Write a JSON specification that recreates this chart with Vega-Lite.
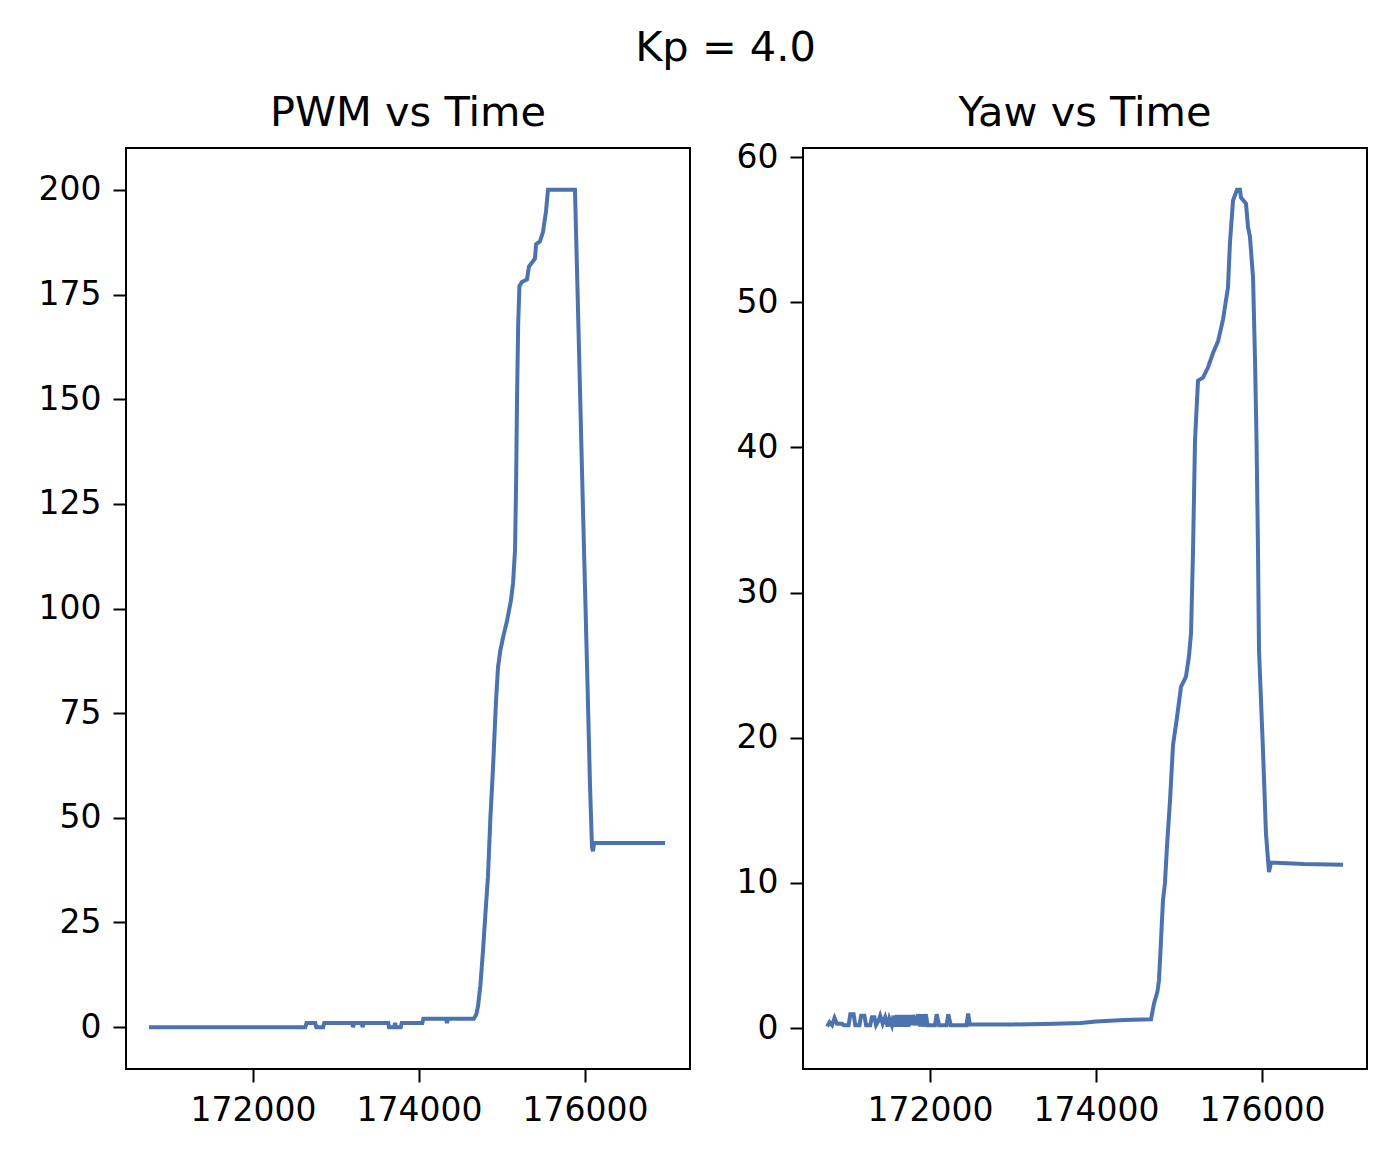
{
  "$schema": "https://vega.github.io/schema/vega-lite/v6.json",
  "background": "white",
  "padding": {"left": 37, "top": 28, "right": 20, "bottom": 20},
  "title": {"text": "Kp = 4.0", "anchor": "middle", "font": "DejaVu Sans", "fontSize": 41.5, "fontWeight": "normal", "color": "black", "offset": 22, "dx": 23},
  "config": {
    "view": {"stroke": "black", "strokeWidth": 2},
    "axis": {"domain": false, "grid": false, "ticks": true, "tickColor": "black", "tickWidth": 2, "tickSize": 13, "labelFont": "DejaVu Sans", "labelFontSize": 33, "labelColor": "black", "labelPadding": 12, "labelOverlap": false, "labelFlush": false, "title": null},
    "title": {"font": "DejaVu Sans", "fontSize": 41.5, "fontWeight": "normal", "color": "black", "offset": 12}
  },
  "spacing": 113,
  "bounds": "flush",
  "hconcat": [
    {
      "width": 564, "height": 921,
      "title": {"text": "PWM vs Time", "offset": 14},
      "data": {"values": [
        {"time":170747,"pwm":0},{"time":172630,"pwm":0},{"time":172645,"pwm":1},{"time":172750,"pwm":1},{"time":172762,"pwm":0},{"time":172845,"pwm":0},{"time":172858,"pwm":1},{"time":173195,"pwm":1},{"time":173205,"pwm":0},{"time":173220,"pwm":1},{"time":173310,"pwm":1},{"time":173320,"pwm":0},{"time":173335,"pwm":1},{"time":173630,"pwm":1},{"time":173640,"pwm":0},{"time":173700,"pwm":0},{"time":173712,"pwm":1},{"time":173725,"pwm":0},{"time":173780,"pwm":0},{"time":173792,"pwm":1},{"time":174040,"pwm":1},{"time":174052,"pwm":2},{"time":174325,"pwm":2},{"time":174337,"pwm":1},{"time":174350,"pwm":2},{"time":174660,"pwm":2},{"time":174690,"pwm":3},{"time":174711,"pwm":5},{"time":174740,"pwm":10},{"time":174770,"pwm":18},{"time":174800,"pwm":27},{"time":174831,"pwm":36},{"time":174860,"pwm":50},{"time":174892,"pwm":62},{"time":174928,"pwm":78},{"time":174952,"pwm":86},{"time":174980,"pwm":90},{"time":175012,"pwm":93},{"time":175060,"pwm":97},{"time":175108,"pwm":102},{"time":175133,"pwm":106},{"time":175157,"pwm":114},{"time":175170,"pwm":130},{"time":175181,"pwm":150},{"time":175195,"pwm":168},{"time":175210,"pwm":177},{"time":175240,"pwm":178},{"time":175301,"pwm":178.6},{"time":175325,"pwm":181.7},{"time":175398,"pwm":183.6},{"time":175410,"pwm":187},{"time":175458,"pwm":187.7},{"time":175494,"pwm":190},{"time":175530,"pwm":194.8},{"time":175554,"pwm":200},{"time":175879,"pwm":200},{"time":175910,"pwm":176},{"time":175940,"pwm":152},{"time":175970,"pwm":128},{"time":176000,"pwm":105},{"time":176030,"pwm":82},{"time":176060,"pwm":58},{"time":176084,"pwm":43},{"time":176096,"pwm":42},{"time":176110,"pwm":44},{"time":176964,"pwm":44}
      ]},
      "mark": {"type": "line", "color": "#4c72b0", "strokeWidth": 4, "clip": true},
      "encoding": {
        "x": {"field": "time", "type": "quantitative", "scale": {"domain": [170470, 177265], "nice": false, "zero": false}, "axis": {"values": [172000, 174000, 176000], "format": "d"}},
        "y": {"field": "pwm", "type": "quantitative", "scale": {"domain": [-10, 210], "nice": false, "zero": false}, "axis": {"values": [0, 25, 50, 75, 100, 125, 150, 175, 200], "format": "d"}}
      }
    },
    {
      "width": 564, "height": 921,
      "title": {"text": "Yaw vs Time", "offset": 7},
      "data": {"values": [
        {"time":170760,"yaw":0.1},{"time":170790,"yaw":0.4},{"time":170820,"yaw":0.2},{"time":170850,"yaw":0.7},{"time":170880,"yaw":0.3},{"time":170940,"yaw":0.3},{"time":170960,"yaw":0.2},{"time":171020,"yaw":0.2},{"time":171040,"yaw":0.95},{"time":171080,"yaw":0.95},{"time":171100,"yaw":0.2},{"time":171150,"yaw":0.2},{"time":171170,"yaw":0.85},{"time":171210,"yaw":0.85},{"time":171230,"yaw":0.2},{"time":171280,"yaw":0.2},{"time":171300,"yaw":0.75},{"time":171330,"yaw":0.75},{"time":171350,"yaw":0.2},{"time":171380,"yaw":0.5},{"time":171400,"yaw":0.85},{"time":171430,"yaw":0.3},{"time":171460,"yaw":0.75},{"time":171490,"yaw":0.1},{"time":171510,"yaw":0.65},{"time":171540,"yaw":0.2},{"time":171560,"yaw":0.85},{"time":171580,"yaw":0.1},{"time":171600,"yaw":0.9},{"time":171620,"yaw":0.1},{"time":171640,"yaw":0.9},{"time":171660,"yaw":0.1},{"time":171680,"yaw":0.9},{"time":171700,"yaw":0.1},{"time":171720,"yaw":0.9},{"time":171740,"yaw":0.1},{"time":171760,"yaw":0.9},{"time":171780,"yaw":0.2},{"time":171800,"yaw":0.9},{"time":171830,"yaw":0.2},{"time":171860,"yaw":0.95},{"time":171880,"yaw":0.1},{"time":171900,"yaw":0.95},{"time":171920,"yaw":0.1},{"time":171950,"yaw":0.95},{"time":171970,"yaw":0.2},{"time":172060,"yaw":0.2},{"time":172080,"yaw":0.95},{"time":172110,"yaw":0.2},{"time":172200,"yaw":0.2},{"time":172220,"yaw":0.95},{"time":172250,"yaw":0.2},{"time":172440,"yaw":0.2},{"time":172460,"yaw":1.0},{"time":172480,"yaw":0.25},{"time":173000,"yaw":0.25},{"time":173500,"yaw":0.3},{"time":173819,"yaw":0.35},{"time":174000,"yaw":0.45},{"time":174337,"yaw":0.55},{"time":174663,"yaw":0.6},{"time":174699,"yaw":1.7},{"time":174740,"yaw":2.5},{"time":174759,"yaw":3.3},{"time":174783,"yaw":6.0},{"time":174807,"yaw":8.8},{"time":174831,"yaw":10.0},{"time":174855,"yaw":12.5},{"time":174892,"yaw":15.7},{"time":174928,"yaw":19.5},{"time":174976,"yaw":21.4},{"time":175024,"yaw":23.5},{"time":175084,"yaw":24.2},{"time":175120,"yaw":25.6},{"time":175145,"yaw":27.2},{"time":175169,"yaw":32.9},{"time":175193,"yaw":40.5},{"time":175229,"yaw":44.6},{"time":175289,"yaw":44.8},{"time":175349,"yaw":45.5},{"time":175410,"yaw":46.5},{"time":175470,"yaw":47.3},{"time":175530,"yaw":48.8},{"time":175590,"yaw":51.0},{"time":175614,"yaw":54.1},{"time":175651,"yaw":57.0},{"time":175699,"yaw":57.74},{"time":175735,"yaw":57.74},{"time":175747,"yaw":57.2},{"time":175807,"yaw":56.8},{"time":175831,"yaw":55.2},{"time":175855,"yaw":54.5},{"time":175892,"yaw":51.7},{"time":175916,"yaw":46.0},{"time":175934,"yaw":40.5},{"time":175952,"yaw":32.9},{"time":175964,"yaw":26.0},{"time":176012,"yaw":19.1},{"time":176048,"yaw":13.4},{"time":176072,"yaw":11.6},{"time":176084,"yaw":10.75},{"time":176108,"yaw":11.4},{"time":176500,"yaw":11.3},{"time":176976,"yaw":11.25}
      ]},
      "mark": {"type": "line", "color": "#4c72b0", "strokeWidth": 4, "clip": true},
      "encoding": {
        "x": {"field": "time", "type": "quantitative", "scale": {"domain": [170470, 177265], "nice": false, "zero": false}, "axis": {"values": [172000, 174000, 176000], "format": "d"}},
        "y": {"field": "yaw", "type": "quantitative", "scale": {"domain": [-2.82, 60.62], "nice": false, "zero": false}, "axis": {"values": [0, 10, 20, 30, 40, 50, 60], "format": "d"}}
      }
    }
  ]
}
